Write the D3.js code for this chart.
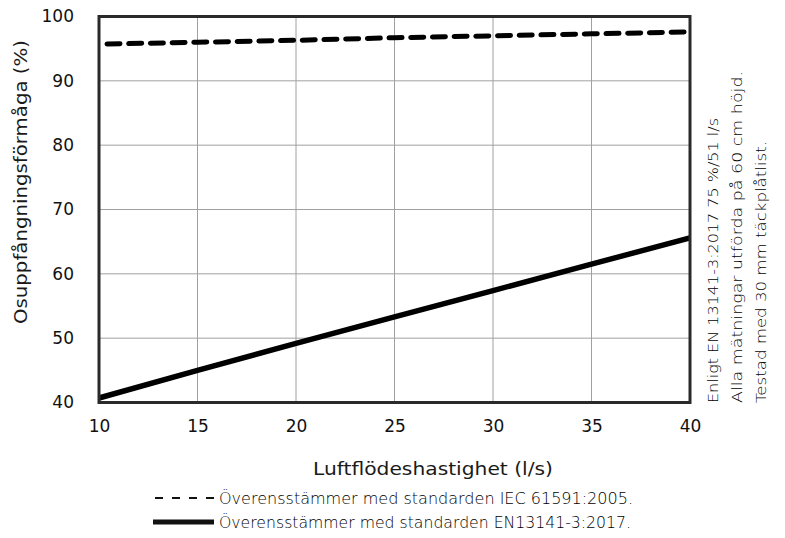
<!DOCTYPE html>
<html><head><meta charset="utf-8">
<script src="https://cdn.jsdelivr.net/npm/d3@7"></script>
<style>body{margin:0;background:#fff}svg{display:block}</style>
</head><body>
<svg id="c" width="785" height="538"></svg>
<script>
const xTicks = [10,15,20,25,30,35,40];
const yTicks = [40,50,60,70,80,90,100];
const flow = [10,15,20,25,30,35,40];
const iecValues = [95.7,96.0,96.3,96.7,97.0,97.3,97.6];
const enValues = [40.7,45.0,49.2,53.3,57.4,61.5,65.6];
const xTitle = "Luftflödeshastighet (l/s)";
const yTitle = "Osuppfångningsförmåga (%)";
const notes = ["Enligt EN 13141-3:2017 75 %/51 l/s","Alla mätningar utförda på 60 cm höjd.","Testad med 30 mm täckplåtlist."];
const legendLabels = ["Överensstämmer med standarden IEC 61591:2005.","Överensstämmer med standarden EN13141-3:2017."];

const svg = d3.select("#c");
const font = "'DejaVu Sans', 'Noto Sans', sans-serif";
const x = d3.scaleLinear().domain([10,40]).range([99,690]);
const y = d3.scaleLinear().domain([40,100]).range([402.5,16.5]);

const g = svg.append("g");
g.selectAll(".gx").data(xTicks.slice(1,-1)).join("line")
  .attr("x1",d=>x(d)).attr("x2",d=>x(d)).attr("y1",y(40)).attr("y2",y(100))
  .attr("stroke","#a0a0a0").attr("stroke-width",1);
g.selectAll(".gy").data(yTicks.slice(1,-1)).join("line")
  .attr("y1",d=>y(d)).attr("y2",d=>y(d)).attr("x1",x(10)).attr("x2",x(40))
  .attr("stroke","#a0a0a0").attr("stroke-width",1);

const xAxis = d3.axisBottom(x).tickValues(xTicks).tickSize(0).tickPadding(17);
const yAxis = d3.axisLeft(y).tickValues(yTicks).tickSize(0).tickPadding(25);
const ga = svg.append("g").attr("transform",`translate(0,${y(40)})`).call(xAxis);
const gb = svg.append("g").attr("transform",`translate(${x(10)},0)`).call(yAxis);
[ga,gb].forEach(a=>{a.select(".domain").remove();a.selectAll("text").attr("font-family",font).attr("font-size",17).attr("fill","#111");});

const line = d3.line().x((d,i)=>x(flow[i])).y(d=>y(d));
svg.append("path").datum(iecValues).attr("d",line).attr("fill","none")
  .attr("stroke","#000").attr("stroke-width",5).attr("stroke-linecap","round")
  .attr("stroke-dasharray","13,8.7").attr("stroke-dashoffset",-8);
svg.append("path").datum(enValues).attr("d",line).attr("fill","none")
  .attr("stroke","#000").attr("stroke-width",5.5);

svg.append("rect").attr("x",x(10)).attr("y",y(100)).attr("width",x(40)-x(10)).attr("height",y(40)-y(100))
  .attr("fill","none").attr("stroke","#2a2a2a").attr("stroke-width",3);

svg.append("text").attr("x",313).attr("y",475)
  .attr("font-family",font).attr("font-size",18.5).attr("fill","#1a1a1a")
  .attr("textLength",240).attr("lengthAdjust","spacingAndGlyphs").text(xTitle);
svg.append("text").attr("transform",`translate(27,324) rotate(-90)`)
  .attr("font-family",font).attr("font-size",18.5).attr("fill","#1a1a1a")
  .attr("textLength",284).attr("lengthAdjust","spacingAndGlyphs").text(yTitle);

const noteLens = [285,332,262];
notes.forEach((t,i)=>{
  svg.append("text").attr("transform",`translate(${718+i*24},403) rotate(-90)`)
    .attr("font-family",font).attr("font-size",14).attr("font-weight",200).attr("fill","#000")
    .attr("textLength",noteLens[i]).attr("lengthAdjust","spacingAndGlyphs").text(t);
});

svg.append("line").attr("x1",155).attr("x2",215).attr("y1",498).attr("y2",498)
  .attr("stroke","#111").attr("stroke-width",2).attr("stroke-dasharray","8,9");
svg.append("line").attr("x1",153).attr("x2",214).attr("y1",522).attr("y2",522)
  .attr("stroke","#111").attr("stroke-width",5);
const legLens = [414,412];
legendLabels.forEach((t,i)=>{
  svg.append("text").attr("x",219).attr("y",504+i*24).attr("font-family",font).attr("font-size",15)
    .attr("font-weight",200).attr("fill","#000")
    .attr("textLength",legLens[i]).attr("lengthAdjust","spacingAndGlyphs").text(t);
});
</script>
</body></html>
